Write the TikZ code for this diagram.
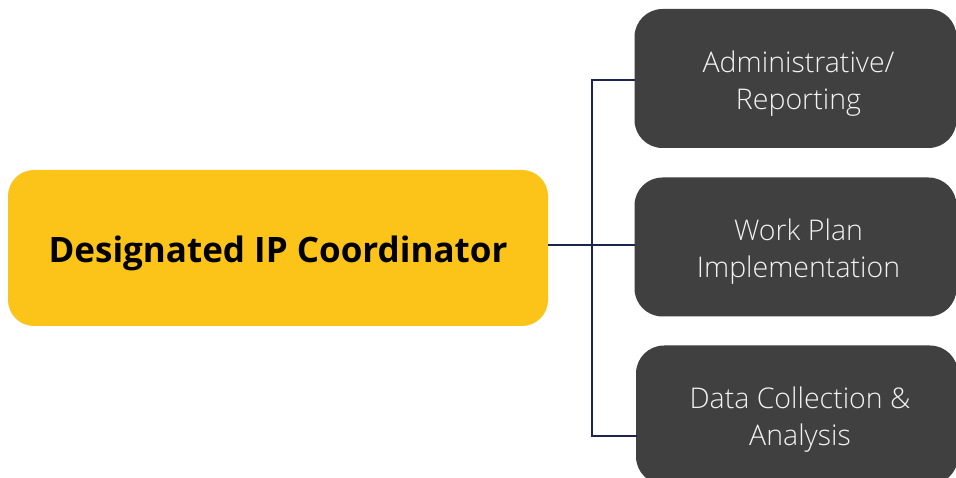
\documentclass[tikz,border=0pt]{standalone}
\usepackage{fontspec}
\setmainfont{Open Sans}
\IfFontExistsTF{Open Sans Light}{\newfontfamily\lightfont{Open Sans Light}}{\newfontfamily\lightfont{Open Sans}}
\definecolor{gold}{HTML}{FCC419}
\definecolor{darkbox}{HTML}{404040}
\definecolor{navy}{HTML}{1B2550}
\definecolor{lighttext}{HTML}{F2F2F2}
\tikzset{
  mainbox/.style={fill=gold, rounded corners=26pt, minimum width=540pt, minimum height=156pt, inner sep=0pt},
  maintext/.style={align=center, font=\fontsize{35}{40}\selectfont\bfseries, text=black, yshift=-5pt},
  subbox/.style={fill=darkbox, rounded corners=28pt, minimum width=322pt, minimum height=139pt, inner sep=0pt},
  subtext/.style={align=center, font=\lightfont\fontsize{28.5}{37}\selectfont, text=lighttext, yshift=-5pt, xshift=3pt},
  link/.style={draw=navy, line width=2.8pt}
}
\begin{document}
\begin{tikzpicture}[x=1pt,y=1pt]
\useasboundingbox (0,0) rectangle (956,477);
\clip (0,0) rectangle (956,477);
\fill[white] (0,0) rectangle (956,477);
\node[mainbox, label={[maintext]center:Designated IP Coordinator}] (main) at (278,229) {};
\node[subbox, label={[subtext]center:Administrative/\\Reporting}] (b1) at (795.5,398.5) {};
\node[subbox, label={[subtext]center:Work Plan\\Implementation}] (b2) at (795.5,230) {};
\node[subbox, label={[subtext]center:Data Collection \&\\Analysis}] (b3) at (797,62) {};
\coordinate (e1) at (635,397);
\coordinate (e2) at (635,232);
\coordinate (e3) at (637,41);
\coordinate (s) at (548,232);
\coordinate (v1) at (592,397);
\coordinate (v3) at (592,41);
\draw[link] (s) -- (e2);
\draw[link, line join=miter] (e1) -- (v1) -- (v3) -- (e3);
\end{tikzpicture}
\end{document}
